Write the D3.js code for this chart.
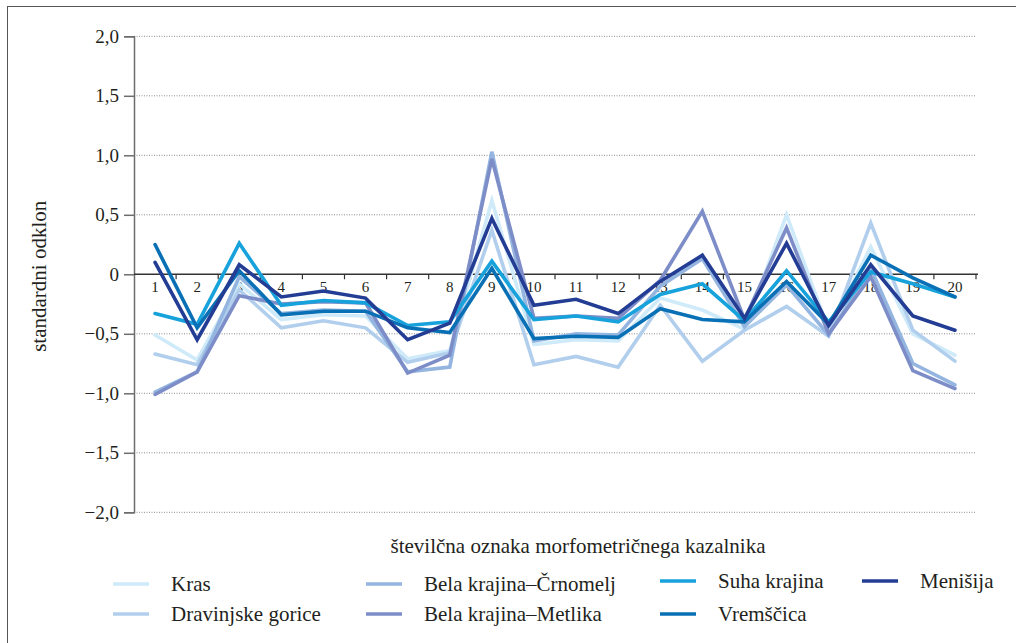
<!DOCTYPE html>
<meta charset="utf-8">
<style>
  body { margin: 0; background: #fff; }
  svg { display: block; }
  text { font-family: "Liberation Serif", "DejaVu Serif", serif; fill: #231f20; }
</style>
<body>
<div id="chart"></div>
<script src="https://d3js.org/d3.v7.min.js"></script>
<script>

var categories = ["1","2","3","4","5","6","7","8","9","10","11","12","13","14","15","16","17","18","19","20"];
var yTicks = [2, 1.5, 1, 0.5, 0, -0.5, -1, -1.5, -2];
var yTickLabels = ["2,0","1,5","1,0","0,5","0","\u22120,5","\u22121,0","\u22121,5","\u22122,0"];

var seriesNames = ["Kras", "Dravinjske gorice", "Bela krajina\u2013\u010crnomelj", "Bela krajina\u2013Metlika", "Suha krajina", "Vrem\u0161\u010dica", "Meni\u0161ija"];
var seriesColors = ["#cfeaf8", "#b1cfed", "#93b5e0", "#7d8dc8", "#17a2dc", "#0a70b5", "#233c94"];

var kras      = [-0.51, -0.72, -0.08, -0.38, -0.34, -0.35, -0.71, -0.64,  0.62, -0.59, -0.55, -0.56, -0.20, -0.30, -0.46,  0.50, -0.47,  0.23, -0.50, -0.68];
var dravinjske= [-0.67, -0.76, -0.13, -0.45, -0.39, -0.45, -0.74, -0.66,  0.37, -0.76, -0.69, -0.78, -0.26, -0.73, -0.47, -0.27, -0.52,  0.43, -0.47, -0.73];
var crnomelj  = [-0.99, -0.82, -0.02, -0.33, -0.30, -0.31, -0.82, -0.78,  1.03, -0.56, -0.50, -0.51, -0.10,  0.13, -0.44, -0.09, -0.51,  0.05, -0.75, -0.93];
var metlika   = [-1.01, -0.82, -0.18, -0.25, -0.23, -0.24, -0.83, -0.68,  0.97, -0.37, -0.35, -0.37, -0.05,  0.53, -0.38,  0.39, -0.50, -0.02, -0.81, -0.96];
var suha      = [-0.33, -0.42,  0.26, -0.26, -0.22, -0.24, -0.43, -0.40,  0.11, -0.38, -0.35, -0.40, -0.17, -0.08, -0.39,  0.03, -0.40,  0.02, -0.08, -0.19];
var vremscica = [ 0.25, -0.45,  0.03, -0.34, -0.31, -0.31, -0.45, -0.49,  0.05, -0.54, -0.52, -0.53, -0.29, -0.38, -0.40, -0.06, -0.42,  0.16, -0.03, -0.19];
var menisija  = [ 0.10, -0.55,  0.08, -0.19, -0.14, -0.20, -0.55, -0.41,  0.47, -0.26, -0.21, -0.33, -0.06,  0.16, -0.37,  0.26, -0.43,  0.08, -0.35, -0.47];

var seriesValues = [kras, dravinjske, crnomelj, metlika, suha, vremscica, menisija];

var width = 1016, height = 643;
var plotLeft = 134, plotRight = 976, plotTop = 36.3, plotBottom = 512.3;
var serifFont = "'Liberation Serif', 'DejaVu Serif', serif";

var svg = d3.select("#chart").append("svg")
  .attr("width", width)
  .attr("height", height)
  .style("font-family", serifFont);

// frame
svg.append("rect")
  .attr("x", 7.5).attr("y", 6.5)
  .attr("width", 1020).attr("height", 650)
  .attr("fill", "none")
  .attr("stroke", "#555")
  .attr("stroke-width", 1);

var x = d3.scaleBand().domain(categories).range([plotLeft, plotRight]);
var y = d3.scaleLinear().domain([-2, 2]).range([plotBottom, plotTop]);

// dotted grid
svg.append("g")
  .selectAll("line")
  .data(yTicks.filter(d => d !== 0))
  .enter().append("line")
  .attr("x1", plotLeft).attr("x2", plotRight)
  .attr("y1", d => y(d)).attr("y2", d => y(d))
  .attr("stroke", "#8a8a8a")
  .attr("stroke-width", 1)
  .attr("stroke-dasharray", "1,1.5");

// y axis
var yAxis = svg.append("g")
  .attr("transform", "translate(" + plotLeft + ",0)")
  .call(d3.axisLeft(y).tickValues(yTicks).tickSize(10).tickPadding(5)
    .tickFormat((d, i) => yTickLabels[i]));
yAxis.attr("font-family", null);
yAxis.select(".domain").attr("stroke", "#6d6d6d").attr("stroke-width", 1.5);
yAxis.selectAll(".tick line").attr("stroke", "#6d6d6d").attr("stroke-width", 1.5);
yAxis.selectAll(".tick text")
  .style("font-family", serifFont)
  .attr("font-size", 19)
  .attr("fill", "#231f20");

// zero line with category ticks
svg.append("line")
  .attr("x1", plotLeft).attr("x2", plotRight + 2)
  .attr("y1", y(0)).attr("y2", y(0))
  .attr("stroke", "#333")
  .attr("stroke-width", 1.5);

svg.append("g")
  .selectAll("line")
  .data(categories)
  .enter().append("line")
  .attr("x1", d => x(d) + x.bandwidth()).attr("x2", d => x(d) + x.bandwidth())
  .attr("y1", y(0)).attr("y2", y(0) + 5)
  .attr("stroke", "#333")
  .attr("stroke-width", 1.2);

// category labels
svg.append("g")
  .selectAll("text")
  .data(categories)
  .enter().append("text")
  .attr("x", d => x(d) + x.bandwidth() / 2)
  .attr("y", y(0) + 18)
  .attr("text-anchor", "middle")
  .attr("font-size", 15)
  .text(d => d);

// series lines
var line = d3.line()
  .x((d, i) => x(categories[i]) + x.bandwidth() / 2)
  .y(d => y(d));

svg.append("g")
  .selectAll("path")
  .data(seriesValues)
  .enter().append("path")
  .attr("d", line)
  .attr("fill", "none")
  .attr("stroke", (d, i) => seriesColors[i])
  .attr("stroke-width", 3.6)
  .attr("stroke-linejoin", "miter")
  .attr("stroke-linecap", "round");

// axis titles
svg.append("text")
  .attr("transform", "translate(46," + (y(0) + 2) + ") rotate(-90)")
  .attr("text-anchor", "middle")
  .attr("font-size", 21)
  .text("standardni odklon");

svg.append("text")
  .attr("x", 578).attr("y", 553)
  .attr("text-anchor", "middle")
  .attr("font-size", 21)
  .text("\u0161tevil\u010dna oznaka morfometri\u010dnega kazalnika");

// legend
var legendCols = [113, 366, 660, 862];
var legendRows = [591, 621];
var legendPos = [[0,0],[0,1],[1,0],[1,1],[2,0],[2,1],[3,0]];

var legend = svg.append("g")
  .selectAll("g")
  .data(seriesNames)
  .enter().append("g")
  .attr("transform", (d, i) => "translate(" + legendCols[legendPos[i][0]] + "," + (legendRows[legendPos[i][1]] - (legendPos[i][0] >= 2 && legendPos[i][1] === 0 ? 3 : 0)) + ")");

legend.append("line")
  .attr("x1", 0).attr("x2", 36)
  .attr("y1", -7).attr("y2", -7)
  .attr("stroke", (d, i) => seriesColors[i])
  .attr("stroke-width", 3.6);

legend.append("text")
  .attr("x", 58)
  .attr("y", 0)
  .attr("font-size", 21)
  .text(d => d);

</script>
</body>
